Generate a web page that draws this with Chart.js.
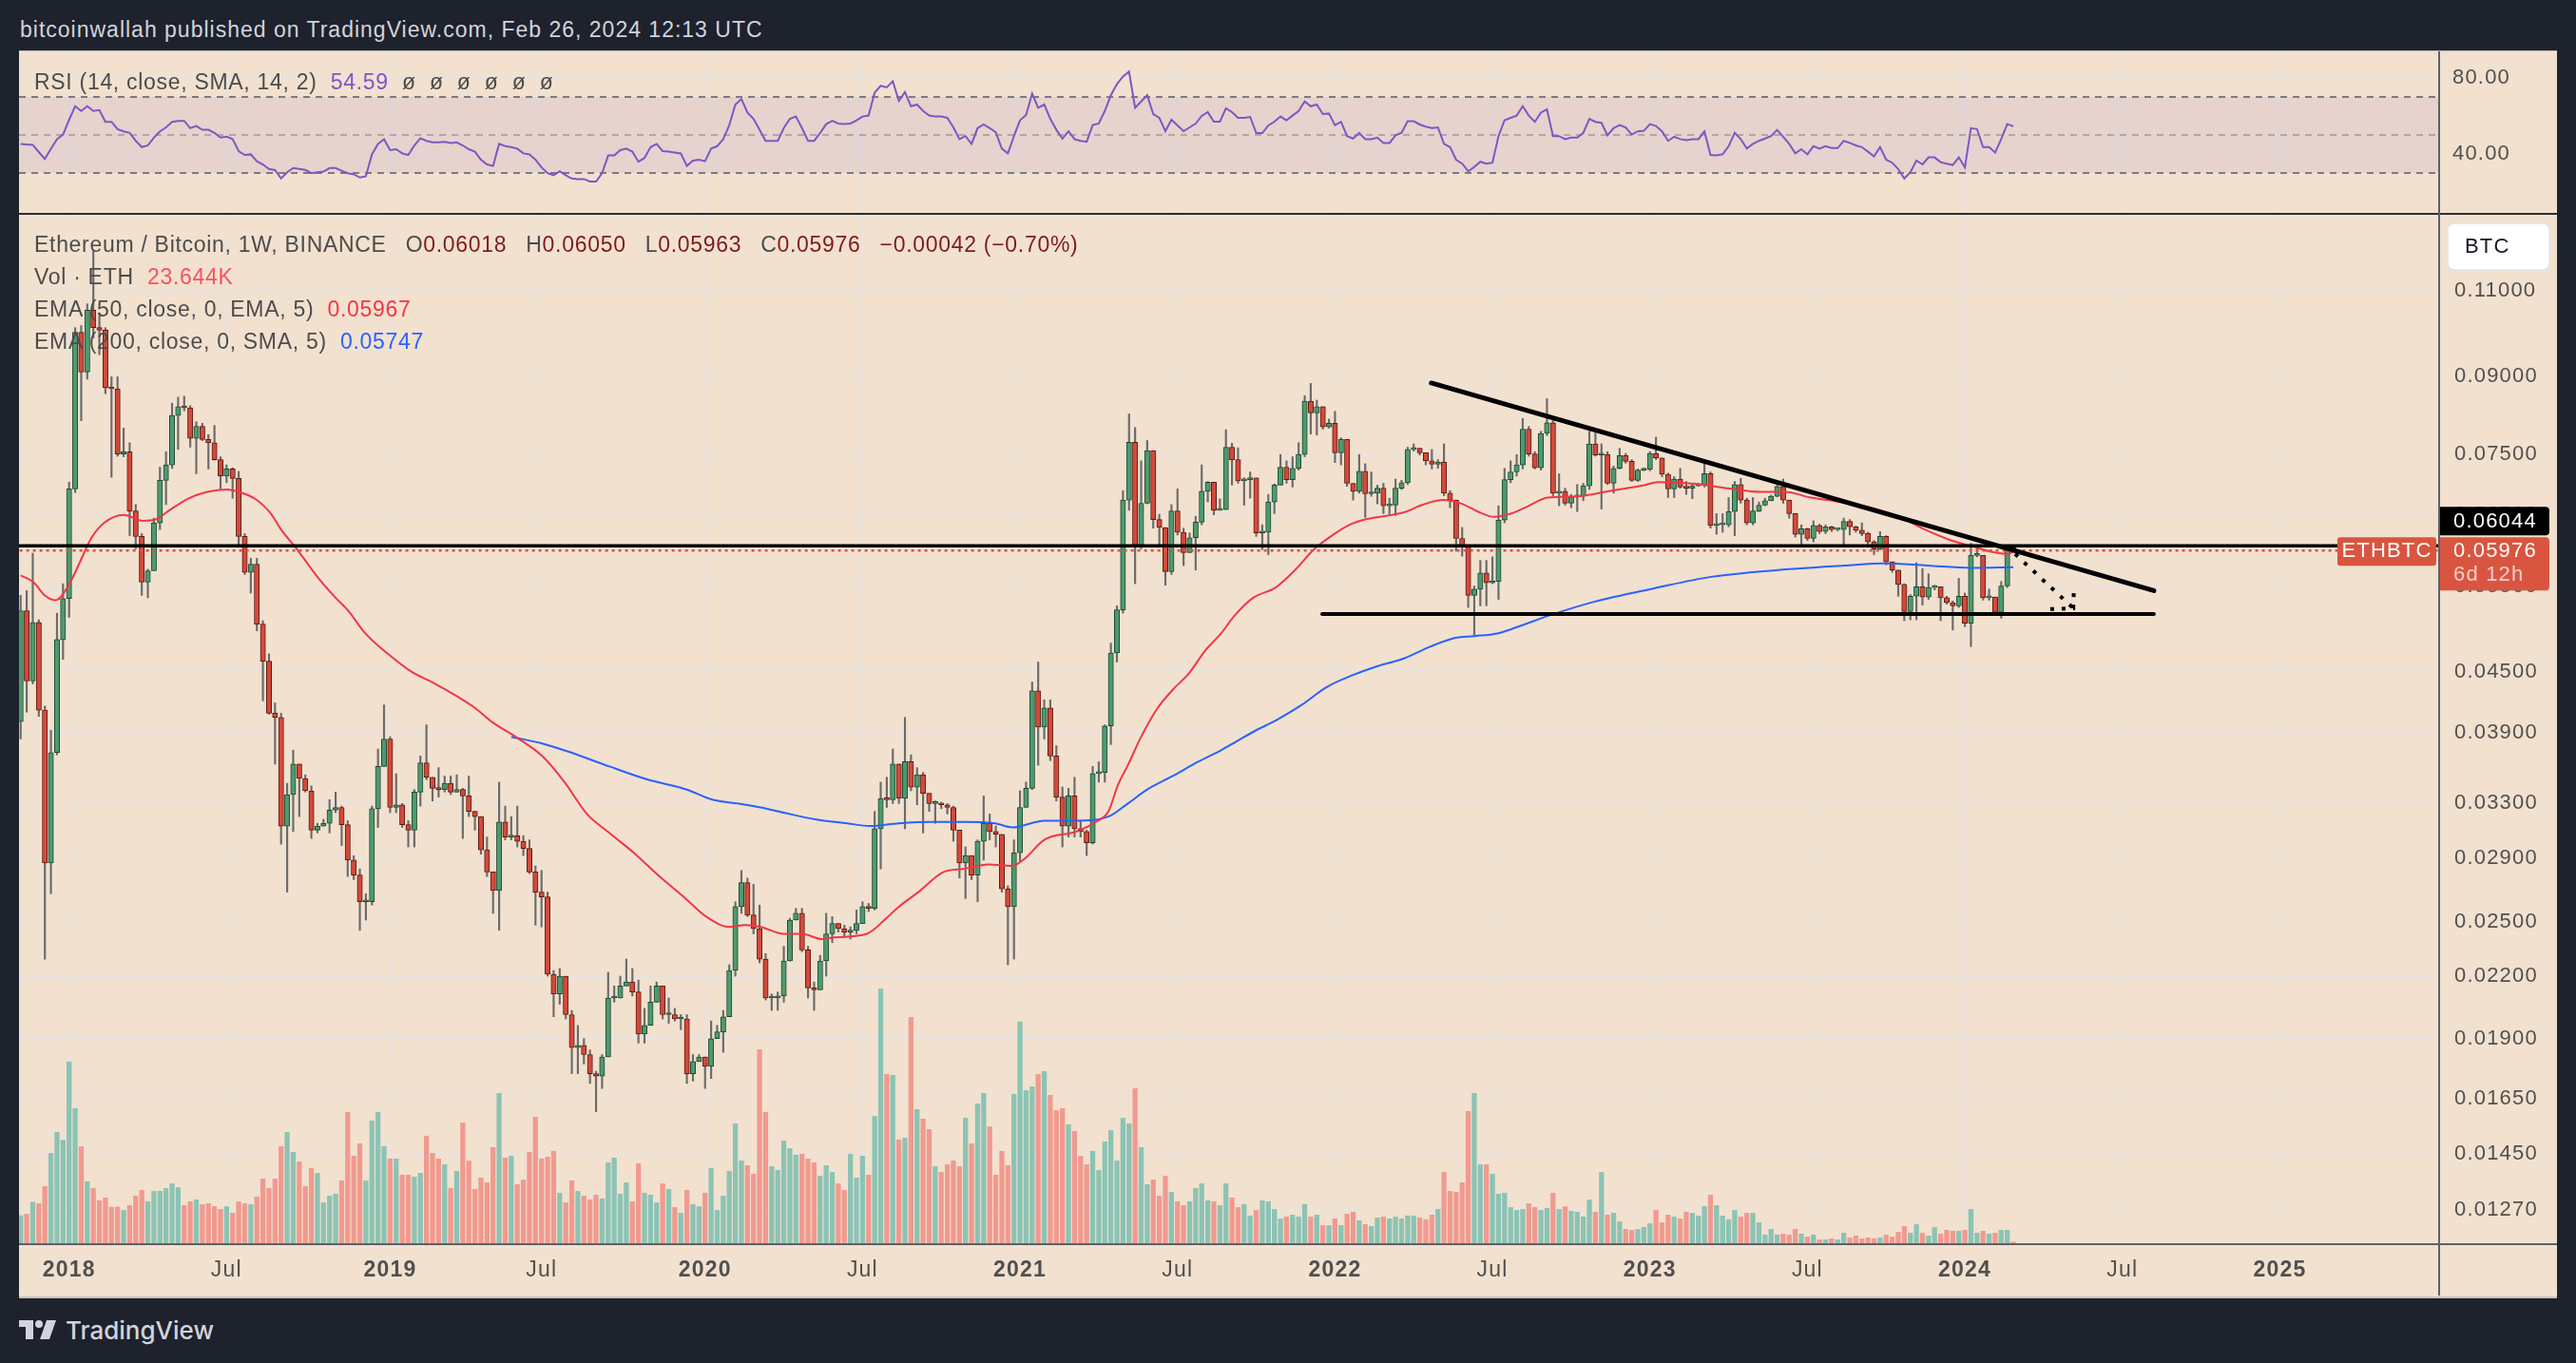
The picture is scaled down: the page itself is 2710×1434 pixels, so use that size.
<!DOCTYPE html>
<html>
<head>
<meta charset="utf-8">
<script src="https://cdn.jsdelivr.net/npm/chart.js@4.4.1/dist/chart.umd.min.js"></script>
<style>
  body { margin: 0; width: 2710px; height: 1434px; background: #1e222d; position: relative; overflow: hidden; font-family: "Liberation Sans", Arial, sans-serif; }
  #hdr { position: absolute; left: 21px; top: 20px; color: #d1d4dc; font-size: 23px; line-height: 23px; letter-spacing: 1px; white-space: pre; }
  #frame { position: absolute; left: 20px; top: 53px; width: 2670px; height: 1310px; background: #f2e1cf; border-top: 1px solid #b9b3ad; border-bottom: 2px solid #c9c1b9; }
  #rsiBox { position: absolute; left: 20px; top: 55px; width: 2670px; height: 169px; }
  #mainBox { position: absolute; left: 20px; top: 226px; width: 2670px; height: 1137px; }
  .sep { position: absolute; background: #2a2e39; }
  .lg { position: absolute; left: 36px; font-size: 23px; line-height: 23px; color: #4c4c4c; letter-spacing: 0.7px; white-space: pre; }
  .dn { color: #7d1c1c; }
  .f { margin-left: 20px; }
  #foot { position: absolute; left: 20px; top: 1386px; height: 26px; display: flex; align-items: center; color: #d1d4dc; font-family: Inter, "Liberation Sans", sans-serif; font-size: 26px; font-weight: 500; }
</style>
</head>
<body>
<div id="hdr">bitcoinwallah published on TradingView.com, Feb 26, 2024 12:13 UTC</div>
<div id="frame"></div>
<div id="rsiBox"><canvas id="rsiChart"></canvas></div>
<div class="sep" style="left:20px;top:224px;width:2670px;height:2px"></div>
<div id="mainBox"><canvas id="mainChart"></canvas></div>
<div class="sep" style="left:2565px;top:54px;width:2px;height:1309px;background:#5d606b"></div>
<div class="sep" style="left:20px;top:1308px;width:2670px;height:2px;background:#5d606b"></div>

<div class="lg" style="top:75px">RSI (14, close, SMA, 14, 2)  <span style="color:#7e57c2">54.59</span>  ø  ø  ø  ø  ø  ø</div>
<div class="lg" style="top:246px">Ethereum / Bitcoin, 1W, BINANCE<span class="f">O<span class="dn">0.06018</span></span><span class="f">H<span class="dn">0.06050</span></span><span class="f">L<span class="dn">0.05963</span></span><span class="f">C<span class="dn">0.05976</span></span><span class="f dn">−0.00042 (−0.70%)</span></div>
<div class="lg" style="top:280px">Vol · ETH  <span style="color:#f7525f">23.644K</span></div>
<div class="lg" style="top:314px">EMA (50, close, 0, EMA, 5)  <span style="color:#f23645">0.05967</span></div>
<div class="lg" style="top:348px">EMA (200, close, 0, SMA, 5)  <span style="color:#2962ff">0.05747</span></div>

<div id="foot">
  <svg width="40" height="20" viewBox="0 0 40 20" style="margin-right:9px">
    <path d="M0 0H15V20H7V7H0Z" fill="#d1d4dc"/>
    <circle cx="21" cy="4" r="4" fill="#d1d4dc"/>
    <path d="M29 0H39L32 20H22Z" fill="#d1d4dc"/>
  </svg>
  <span>TradingView</span>
</div>

<script>
// weekly ETH/BTC candles, week 0 = 6 Nov 2017, last week (329) = 26 Feb 2024
const firstOpen = 0.0400;
const close = [
  0.0519,0.0440,0.0505,0.0411,0.0287,0.0372,0.0485,0.0534,0.0691,0.0998,
  0.0909,0.1051,0.1009,0.1003,0.0876,0.0874,0.0750,0.0754,0.0656,0.0618,
  0.0555,0.0570,0.0638,0.0705,0.0731,0.0821,0.0838,0.0836,0.0778,0.0800,
  0.0776,0.0770,0.0740,0.0712,0.0724,0.0708,0.0618,0.0568,0.0579,0.0503,
  0.0461,0.0408,0.0404,0.0313,0.0337,0.0362,0.0350,0.0340,0.0310,0.0313,
  0.0315,0.0325,0.0327,0.0314,0.0289,0.0279,0.0262,0.0262,0.0326,0.0360,
  0.0384,0.0327,0.0329,0.0314,0.0310,0.0339,0.0363,0.0351,0.0342,0.0341,
  0.0346,0.0339,0.0341,0.0336,0.0324,0.0320,0.0296,0.0281,0.0269,0.0316,
  0.0305,0.0306,0.0302,0.0297,0.0281,0.0268,0.0265,0.0221,0.0211,0.0220,
  0.0201,0.0186,0.0187,0.0183,0.0175,0.0174,0.0182,0.0209,0.0209,0.0215,
  0.0217,0.0212,0.0192,0.0196,0.0207,0.0215,0.0201,0.0201,0.0199,0.0199,
  0.0175,0.0180,0.0182,0.0178,0.0190,0.0193,0.0200,0.0223,0.0259,0.0274,
  0.0254,0.0246,0.0229,0.0209,0.0209,0.0210,0.0228,0.0251,0.0255,0.0234,
  0.0214,0.0213,0.0228,0.0243,0.0249,0.0246,0.0244,0.0245,0.0249,0.0259,
  0.0258,0.0311,0.0334,0.0333,0.0362,0.0334,0.0364,0.0343,0.0353,0.0338,
  0.0330,0.0330,0.0329,0.0327,0.0310,0.0287,0.0292,0.0279,0.0302,0.0315,
  0.0309,0.0307,0.0270,0.0259,0.0294,0.0327,0.0342,0.0430,0.0395,0.0413,
  0.0369,0.0335,0.0313,0.0336,0.0311,0.0309,0.0301,0.0354,0.0355,0.0396,
  0.0470,0.0520,0.0673,0.0771,0.0604,0.0668,0.0756,0.0643,0.0631,0.0569,
  0.0656,0.0624,0.0595,0.0616,0.0639,0.0687,0.0702,0.0657,0.0658,0.0762,
  0.0740,0.0704,0.0706,0.0709,0.0623,0.0624,0.0670,0.0697,0.0727,0.0706,
  0.0725,0.0749,0.0849,0.0826,0.0838,0.0799,0.0806,0.0752,0.0776,0.0700,
  0.0687,0.0720,0.0683,0.0684,0.0692,0.0664,0.0665,0.0692,0.0701,0.0758,
  0.0760,0.0752,0.0738,0.0732,0.0736,0.0684,0.0673,0.0615,0.0604,0.0538,
  0.0546,0.0567,0.0554,0.0556,0.0642,0.0706,0.0719,0.0731,0.0795,0.0750,
  0.0726,0.0787,0.0807,0.0684,0.0687,0.0668,0.0678,0.0679,0.0696,0.0768,
  0.0748,0.0749,0.0700,0.0725,0.0747,0.0737,0.0705,0.0722,0.0723,0.0751,
  0.0743,0.0715,0.0691,0.0707,0.0694,0.0692,0.0696,0.0697,0.0716,0.0634,
  0.0635,0.0635,0.0655,0.0698,0.0673,0.0638,0.0656,0.0665,0.0672,0.0679,
  0.0695,0.0673,0.0652,0.0621,0.0629,0.0615,0.0634,0.0625,0.0632,0.0628,
  0.0628,0.0640,0.0632,0.0627,0.0622,0.0610,0.0600,0.0618,0.0582,0.0571,
  0.0552,0.0518,0.0537,0.0549,0.0536,0.0548,0.0549,0.0535,0.0529,0.0525,
  0.0537,0.0504,0.0591,0.0591,0.0535,0.0536,0.0517,0.0550,0.06018,0.05976
];
const high = [
  0.0538,0.0544,0.0594,0.0508,0.0415,0.0392,0.0516,0.0553,0.0702,0.1009,
  0.1014,0.1067,0.1210,0.1044,0.1009,0.0899,0.0899,0.0797,0.0770,0.0666,
  0.0622,0.0572,0.0645,0.0727,0.0754,0.0845,0.0857,0.0859,0.0840,0.0809,
  0.0806,0.0785,0.0802,0.0745,0.0731,0.0726,0.0720,0.0622,0.0587,0.0587,
  0.0507,0.0469,0.0418,0.0408,0.0346,0.0374,0.0362,0.0353,0.0344,0.0315,
  0.0318,0.0333,0.0339,0.0328,0.0317,0.0292,0.0283,0.0267,0.0328,0.0375,
  0.0416,0.0386,0.0354,0.0330,0.0317,0.0341,0.0369,0.0397,0.0351,0.0359,
  0.0352,0.0352,0.0353,0.0342,0.0352,0.0324,0.0320,0.0305,0.0281,0.0347,
  0.0328,0.0320,0.0328,0.0306,0.0303,0.0285,0.0282,0.0268,0.0223,0.0224,
  0.0220,0.0203,0.0196,0.0190,0.0185,0.0176,0.0183,0.0222,0.0215,0.0220,
  0.0229,0.0224,0.0218,0.0204,0.0215,0.0217,0.0215,0.0209,0.0204,0.0201,
  0.0201,0.0183,0.0183,0.0182,0.0198,0.0196,0.0203,0.0226,0.0262,0.0282,
  0.0277,0.0273,0.0260,0.0232,0.0211,0.0212,0.0236,0.0252,0.0258,0.0258,
  0.0236,0.0217,0.0231,0.0255,0.0253,0.0249,0.0248,0.0247,0.0257,0.0262,
  0.0261,0.0324,0.0347,0.0351,0.0375,0.0362,0.0404,0.0370,0.0359,0.0355,
  0.0337,0.0332,0.0331,0.0330,0.0328,0.0310,0.0298,0.0292,0.0303,0.0336,
  0.0322,0.0313,0.0307,0.0272,0.0303,0.0340,0.0347,0.0439,0.0460,0.0421,
  0.0421,0.0378,0.0343,0.0342,0.0351,0.0317,0.0310,0.0360,0.0364,0.0397,
  0.0481,0.0525,0.0688,0.0824,0.0798,0.0738,0.0774,0.0756,0.0651,0.0630,
  0.0666,0.0691,0.0630,0.0623,0.0648,0.0731,0.0703,0.0702,0.0675,0.0794,
  0.0769,0.0761,0.0709,0.0719,0.0709,0.0635,0.0682,0.0699,0.0749,0.0738,
  0.0745,0.0770,0.0860,0.0885,0.0851,0.0838,0.0814,0.0829,0.0779,0.0776,
  0.0700,0.0749,0.0733,0.0719,0.0697,0.0700,0.0676,0.0707,0.0705,0.0762,
  0.0768,0.0759,0.0752,0.0758,0.0740,0.0768,0.0688,0.0673,0.0631,0.0603,
  0.0550,0.0584,0.0584,0.0589,0.0664,0.0725,0.0738,0.0749,0.0815,0.0800,
  0.0754,0.0791,0.0854,0.0815,0.0716,0.0692,0.0682,0.0698,0.0700,0.0791,
  0.0788,0.0768,0.0754,0.0729,0.0760,0.0751,0.0740,0.0724,0.0725,0.0754,
  0.0780,0.0743,0.0717,0.0711,0.0725,0.0703,0.0700,0.0700,0.0734,0.0719,
  0.0652,0.0652,0.0677,0.0703,0.0708,0.0676,0.0677,0.0670,0.0676,0.0681,
  0.0700,0.0707,0.0673,0.0651,0.0635,0.0630,0.0641,0.0636,0.0635,0.0633,
  0.0629,0.0645,0.0643,0.0633,0.0638,0.0624,0.0612,0.0625,0.0619,0.0582,
  0.0571,0.0553,0.0539,0.0581,0.0573,0.0566,0.0551,0.0547,0.0537,0.0531,
  0.0560,0.0541,0.0608,0.0601,0.0589,0.0546,0.0535,0.0556,0.0604,0.06050
];
const low = [
  0.0384,0.0409,0.0437,0.0405,0.0229,0.0267,0.0370,0.0463,0.0511,0.0685,
  0.0811,0.0894,0.0985,0.0947,0.0864,0.0710,0.0746,0.0745,0.0619,0.0600,
  0.0538,0.0535,0.0570,0.0628,0.0666,0.0725,0.0758,0.0830,0.0762,0.0716,
  0.0774,0.0724,0.0739,0.0691,0.0701,0.0676,0.0603,0.0565,0.0541,0.0495,
  0.0420,0.0407,0.0362,0.0300,0.0268,0.0309,0.0320,0.0339,0.0304,0.0308,
  0.0313,0.0308,0.0323,0.0299,0.0278,0.0276,0.0245,0.0251,0.0260,0.0312,
  0.0360,0.0323,0.0323,0.0312,0.0298,0.0298,0.0328,0.0349,0.0332,0.0335,
  0.0339,0.0337,0.0339,0.0304,0.0320,0.0310,0.0293,0.0278,0.0255,0.0245,
  0.0303,0.0303,0.0298,0.0292,0.0280,0.0248,0.0247,0.0220,0.0200,0.0206,
  0.0199,0.0175,0.0175,0.0179,0.0171,0.0160,0.0169,0.0182,0.0207,0.0209,
  0.0215,0.0210,0.0188,0.0188,0.0196,0.0207,0.0199,0.0197,0.0198,0.0194,
  0.0171,0.0172,0.0180,0.0169,0.0173,0.0190,0.0184,0.0200,0.0220,0.0255,
  0.0253,0.0243,0.0227,0.0208,0.0203,0.0203,0.0207,0.0228,0.0251,0.0233,
  0.0209,0.0203,0.0213,0.0220,0.0238,0.0244,0.0241,0.0240,0.0243,0.0249,
  0.0256,0.0257,0.0283,0.0327,0.0330,0.0330,0.0311,0.0340,0.0329,0.0308,
  0.0324,0.0315,0.0326,0.0322,0.0302,0.0277,0.0264,0.0276,0.0262,0.0289,
  0.0303,0.0298,0.0268,0.0226,0.0229,0.0288,0.0332,0.0341,0.0361,0.0384,
  0.0365,0.0332,0.0298,0.0305,0.0305,0.0305,0.0292,0.0300,0.0347,0.0347,
  0.0379,0.0460,0.0516,0.0657,0.0553,0.0600,0.0667,0.0630,0.0603,0.0551,
  0.0565,0.0620,0.0577,0.0595,0.0571,0.0635,0.0670,0.0650,0.0657,0.0658,
  0.0697,0.0700,0.0665,0.0676,0.0618,0.0599,0.0592,0.0652,0.0697,0.0700,
  0.0694,0.0722,0.0745,0.0786,0.0784,0.0795,0.0797,0.0735,0.0731,0.0695,
  0.0673,0.0684,0.0646,0.0679,0.0667,0.0652,0.0649,0.0649,0.0690,0.0698,
  0.0755,0.0748,0.0731,0.0724,0.0725,0.0680,0.0661,0.0597,0.0590,0.0523,
  0.0490,0.0525,0.0525,0.0553,0.0533,0.0638,0.0701,0.0712,0.0724,0.0746,
  0.0724,0.0722,0.0783,0.0679,0.0664,0.0665,0.0661,0.0655,0.0672,0.0690,
  0.0746,0.0659,0.0698,0.0684,0.0724,0.0734,0.0703,0.0703,0.0721,0.0721,
  0.0740,0.0711,0.0677,0.0677,0.0692,0.0682,0.0675,0.0695,0.0694,0.0630,
  0.0621,0.0624,0.0632,0.0619,0.0668,0.0635,0.0635,0.0655,0.0664,0.0672,
  0.0678,0.0668,0.0645,0.0617,0.0603,0.0612,0.0610,0.0622,0.0622,0.0625,
  0.0626,0.0605,0.0620,0.0624,0.0619,0.0607,0.0592,0.0599,0.0578,0.0568,
  0.0537,0.0507,0.0508,0.0508,0.0526,0.0533,0.0545,0.0507,0.0527,0.0496,
  0.0523,0.0500,0.0477,0.0589,0.0532,0.0532,0.0514,0.0510,0.0548,0.05963
];
// volume in thousands of ETH
const volumeK = [
  315,332,465,448,637,1004,1235,1148,2012,1498,
  1078,690,616,480,511,410,410,374,427,532,
  595,469,584,584,616,668,626,427,469,490,
  438,448,416,385,416,343,469,448,438,522,
  721,616,721,1078,1235,1015,910,637,836,784,
  458,532,553,700,1456,973,1110,700,1362,1456,
  1078,942,942,763,763,742,784,1194,1004,942,
  878,616,805,1340,920,606,732,679,1068,1666,
  952,973,658,710,1015,1404,942,962,1026,564,
  458,700,584,532,490,542,500,900,952,553,
  679,469,889,564,542,458,668,606,406,343,
  595,438,416,564,836,374,532,805,1330,920,
  868,774,2149,1456,858,816,1141,1057,984,994,
  942,900,752,868,794,668,595,994,732,973,
  763,1414,2821,1876,1866,1152,1172,2506,1488,1382,
  1267,858,794,878,920,858,1393,1110,1550,1666,
  1298,763,1026,868,1656,2457,1698,1740,1876,1908,
  1645,1477,1498,1320,1246,973,878,1026,816,1130,
  1256,920,1393,1330,1718,1068,658,710,532,752,
  574,469,427,469,616,668,480,469,427,668,
  511,406,438,312,374,480,469,385,280,301,
  322,301,438,301,322,206,206,280,206,332,
  354,259,217,196,290,301,280,301,280,312,
  312,290,270,322,385,794,584,574,679,1466,
  1666,878,878,774,553,564,406,374,385,448,
  406,374,396,564,385,416,364,354,301,490,
  354,794,322,343,248,164,154,164,186,228,
  374,238,322,301,280,354,343,312,416,542,
  427,312,270,374,301,343,343,238,102,164,
  102,112,102,164,112,80,102,49,49,60,
  49,122,70,91,60,70,60,70,102,80,
  133,196,122,217,122,91,186,112,154,144,
  144,154,385,122,144,112,122,154,154,23.644
];
const rsi = [
  45.3,45.0,44.8,41.0,37.4,42.8,47.8,50.2,58.0,65.1,
  62.6,65.1,62.6,63.1,56.9,56.9,53.0,51.9,51.1,46.9,
  43.6,44.5,48.6,51.9,54.0,56.9,57.4,57.4,53.6,54.7,
  52.7,52.7,51.1,48.6,49.1,47.8,41.5,39.5,39.8,36.2,
  34.5,32.1,31.5,27.1,30.4,32.6,32.1,31.6,29.9,30.4,
  30.7,32.6,32.6,31.2,29.9,29.3,27.6,28.3,39.8,45.3,
  47.8,42.0,42.5,40.3,39.5,44.5,48.3,46.9,46.1,46.1,
  46.4,45.8,46.1,44.5,42.5,41.2,37.0,34.5,33.7,45.3,
  44.1,43.6,42.8,40.3,39.8,37.0,32.9,29.9,28.8,30.9,
  28.8,27.1,26.8,26.8,25.5,25.5,29.9,39.2,39.2,42.0,
  42.8,41.2,35.9,37.9,43.6,45.3,41.5,41.2,40.8,40.3,
  33.7,36.5,37.0,36.2,42.8,44.1,47.8,55.2,66.0,68.9,
  61.8,58.5,52.7,46.9,46.9,46.9,53.6,58.5,59.7,53.6,
  46.9,46.9,51.1,55.7,57.4,56.0,55.7,56.0,57.7,59.7,
  60.2,72.2,75.9,75.0,78.3,67.9,72.6,65.1,66.0,62.6,
  60.2,59.7,59.7,59.0,54.0,47.8,49.4,45.3,53.6,55.5,
  53.6,51.4,42.8,40.3,49.4,57.7,60.5,71.7,64.3,66.0,
  58.5,52.7,48.1,51.9,47.8,46.9,46.4,55.2,56.0,62.6,
  70.9,76.7,80.8,83.3,64.3,67.6,70.9,61.0,59.0,52.0,
  58.0,55.0,52.0,54.0,56.0,60.0,62.0,57.0,57.0,64.0,
  62.0,59.0,59.0,59.5,51.0,51.0,55.0,57.0,59.7,57.7,
  60.2,62.6,67.6,65.1,66.0,61.0,61.3,55.2,56.9,49.4,
  48.1,51.1,47.8,47.8,48.6,45.8,45.8,49.8,51.1,57.2,
  57.2,55.5,54.4,53.6,54.0,45.3,43.6,37.0,34.9,30.9,
  33.2,35.9,34.9,35.4,49.4,57.7,59.0,60.2,65.1,60.2,
  56.9,61.8,63.5,49.4,49.4,47.8,48.6,48.6,51.1,58.5,
  56.9,56.4,49.8,53.6,55.2,54.0,50.2,51.9,52.2,55.7,
  54.7,51.9,46.9,49.1,47.8,47.3,47.8,47.8,51.9,39.5,
  39.2,39.8,44.1,51.1,47.8,42.8,45.3,46.9,48.1,49.4,
  52.7,49.1,45.3,40.3,42.5,39.8,44.1,42.8,44.1,43.1,
  43.1,46.9,45.8,44.5,43.6,41.2,38.7,43.6,37.0,35.4,
  32.1,27.1,30.4,36.5,34.5,38.2,38.2,35.7,34.9,34.2,
  38.2,32.9,53.6,53.1,43.6,43.6,40.8,47.8,55.7,54.59
];
// EMA curves (week position, value)
const ema50Week = [0,2.1,4,5.8,8,9.8,11.7,13.8,17,20.2,22.3,24.4,27.6,30.8,34,36.1,38.7,41.4,43,45.6,
  48.8,52,54.1,56.8,61,64.7,67.9,72.2,74.8,78,82,86.1,89.8,93.5,97.2,101.5,105.2,109.5,113.2,117,
  119.6,122.2,126,129,132.3,134.4,139.7,142.9,145,148.2,152.4,155.6,159.8,163.7,165.8,169,174.3,177.5,179.6,181.2,
  182.8,185,187.6,190.2,192.9,195.5,198.2,200.3,203.5,207.2,210.4,213.6,216.8,219.4,222,225.2,228.4,231.6,234.8,238,
  240.6,243.3,246.1,248.8,252.1,257,262.6,268.1,270.3,276.9,281.8,287.3,291.2,295.6,301.1,305.5,309.9,314.4,318.8,322.1,
  325.4,328.2,329];
const ema50 = [0.0564,0.0555,0.0538,0.0532,0.0552,0.0582,0.0616,0.0638,0.0650,0.0641,0.0643,0.0656,0.0675,0.0686,0.0690,0.0686,0.0675,0.0651,0.0628,0.0600,
  0.0564,0.0535,0.0519,0.0493,0.0467,0.0449,0.0439,0.0424,0.0414,0.0399,0.0385,0.0369,0.0347,0.0322,0.0308,0.0293,0.0279,0.0265,0.0253,0.0247,
  0.0248,0.0247,0.0243,0.0243,0.0240,0.0241,0.0243,0.0252,0.0259,0.0268,0.0281,0.0283,0.0286,0.0285,0.0290,0.0303,0.0309,0.0316,0.0324,0.0345,
  0.0361,0.0386,0.0412,0.0431,0.0448,0.0472,0.0492,0.0512,0.0535,0.0548,0.0571,0.0600,0.0621,0.0635,0.0643,0.0648,0.0654,0.0666,0.0673,0.0667,
  0.0655,0.0647,0.0652,0.0663,0.0677,0.0679,0.0688,0.0697,0.0702,0.0699,0.0692,0.0686,0.0686,0.0677,0.0669,0.0661,0.0648,0.0628,0.0612,0.0604,
  0.0596,0.0593,0.05967];
const ema200Week = [81,86.1,90.3,97.2,103.6,110,114.2,118.5,122.2,126,131.2,136.5,140.2,145,150.3,155.6,160.9,163.7,169,174.3,
  179.6,182.8,186,190.2,194.4,198.2,200.8,204,207.2,211.5,215.7,219.9,224.2,228.4,232.7,236.9,240.1,243.8,246.1,252.7,
  259.8,269.7,279.1,290.1,301.1,307.7,314.8,322.1,329];
const ema200 = [0.0386,0.0380,0.0373,0.0360,0.0349,0.0341,0.0333,0.0330,0.0327,0.0323,0.0318,0.0315,0.0313,0.0315,0.0316,0.0316,0.0315,0.0312,0.0317,0.0317,
  0.0320,0.0330,0.0341,0.0352,0.0364,0.0374,0.0382,0.0392,0.0401,0.0416,0.0434,0.0446,0.0456,0.0464,0.0477,0.0487,0.0489,0.0492,0.0497,0.0514,
  0.0530,0.0547,0.0562,0.0571,0.0577,0.0580,0.0577,0.0574,0.05747];

// axes
const timeTickWeeks = [8,34,61,86,113,139,165,191,217,243,269,295,321,347,373];
const timeTickLabels = ['2018','Jul','2019','Jul','2020','Jul','2021','Jul','2022','Jul','2023','Jul','2024','Jul','2025'];
const priceTicks = [0.0127,0.0145,0.0165,0.019,0.022,0.025,0.029,0.033,0.039,0.045,0.055,0.065,0.075,0.09,0.11];
const rsiTicks = [40, 80];
const rsiLevels = [30, 50, 70];

// drawings on the chart
const lastPrice = 0.05976;
const levelPrice = 0.06044;
const trendWeeks = [232.9, 352.2], trendPrices = [0.0886, 0.0544];
const supportWeeks = [214.9, 352.2], supportPrices = [0.0515, 0.0515];
const arrowWeeks = [329.3, 338.9], arrowPrices = [0.0593, 0.0522];
const arrowHeadWeeks = [335.1, 338.9, 339.0], arrowHeadPrices = [0.0521, 0.0522, 0.0548];

const X_MIN = -0.27, X_MAX = 399.3;
const GRID = '#e8e3de';
const AXIS_TEXT = '#505050';
const FONT = '"Liberation Sans", Arial, sans-serif';

const open = close.map((c, k) => (k === 0 ? firstOpen : close[k - 1]));
const isUp = close.map((c, k) => c >= open[k]);

const pts = (xs, ys) => xs.map((x, k) => ({ x: x, y: ys[k] }));

function fixWidth(w) {
  return function (scale) {
    scale.width = w;
    scale.paddingTop = 0; scale.paddingBottom = 0;
  };
}
function fixHeight(h) {
  return function (scale) {
    scale.height = h;
    scale.paddingLeft = 0; scale.paddingRight = 0;
  };
}
const timeTicksHook = (scale) => { scale.ticks = timeTickWeeks.map(v => ({ value: v })); };

const spacing = {
  id: 'spacing',
  beforeDraw(chart) { chart.ctx.letterSpacing = '1.2px'; }
};

const rsiBands = {
  id: 'rsiBands',
  beforeDatasetsDraw(chart) {
    const { ctx, chartArea: a, scales: { y } } = chart;
    const y70 = y.getPixelForValue(70), y30 = y.getPixelForValue(30);
    ctx.save();
    ctx.fillStyle = 'rgba(126,87,194,0.1)';
    ctx.fillRect(a.left, y70, a.right - a.left, y30 - y70);
    ctx.lineWidth = 2;
    ctx.setLineDash([7, 6]);
    rsiLevels.forEach(v => {
      const py = Math.round(y.getPixelForValue(v));
      ctx.strokeStyle = v === 50 ? 'rgba(120,123,134,0.5)' : '#787b86';
      ctx.beginPath(); ctx.moveTo(a.left, py); ctx.lineTo(a.right, py); ctx.stroke();
    });
    ctx.restore();
  }
};

function box(ctx, x, y, w, h, r, fill) {
  ctx.beginPath();
  ctx.roundRect(x, y, w, h, r);
  ctx.fillStyle = fill;
  ctx.fill();
}

const priceLabels = {
  id: 'priceLabels',
  afterDraw(chart) {
    const { ctx, chartArea: a, scales: { y } } = chart;
    const ax = a.right;
    const py = y.getPixelForValue(lastPrice);
    ctx.save();
    ctx.letterSpacing = '1.2px';
    ctx.font = '22px ' + FONT;
    ctx.textBaseline = 'middle';
    // currency button
    box(ctx, ax + 9, 9, 107, 49, 7, '#ffffff');
    ctx.strokeStyle = '#e0e3eb'; ctx.lineWidth = 1.5; ctx.stroke();
    ctx.fillStyle = '#131722'; ctx.textAlign = 'left';
    ctx.fillText('BTC', ax + 27, 34);
    // horizontal level label
    box(ctx, ax, py - 46, 116, 30, [0, 4, 4, 0], '#000000');
    ctx.fillStyle = '#ffffff';
    ctx.fillText(levelPrice.toFixed(5), ax + 15, py - 30);
    // last price label with countdown
    box(ctx, ax, py - 14, 116, 56, [0, 4, 4, 0], '#d95540');
    ctx.fillStyle = '#ffffff';
    ctx.fillText(lastPrice.toFixed(5), ax + 15, py + 1);
    ctx.fillStyle = 'rgba(255,255,255,0.72)';
    ctx.fillText('6d 12h', ax + 15, py + 26);
    // symbol label
    box(ctx, ax - 107, py - 14, 104, 30, 3, '#d95540');
    ctx.fillStyle = '#ffffff'; ctx.textAlign = 'center';
    ctx.fillText('ETHBTC', ax - 55, py + 1);
    ctx.restore();
  }
};

// ---------- RSI pane ----------
new Chart(document.getElementById('rsiChart'), {
  type: 'line',
  data: {
    datasets: [{
      data: pts(close.map((c, k) => k), rsi),
      borderColor: '#7e57c2', borderWidth: 2, pointRadius: 0, tension: 0
    }]
  },
  options: {
    responsive: true, maintainAspectRatio: false, animation: false, events: [],
    layout: { padding: 0 },
    plugins: { legend: { display: false }, tooltip: { enabled: false } },
    scales: {
      x: {
        type: 'linear', min: X_MIN, max: X_MAX,
        afterBuildTicks: timeTicksHook, afterFit: fixHeight(0),
        ticks: { display: false },
        grid: { color: GRID, lineWidth: 1.5, drawTicks: false },
        border: { display: false }
      },
      y: {
        position: 'right', min: 9, max: 93.5,
        afterBuildTicks: (s) => { s.ticks = rsiTicks.map(v => ({ value: v })); },
        afterFit: fixWidth(124),
        ticks: { padding: 14, color: AXIS_TEXT, font: { family: FONT, size: 22 }, callback: v => v.toFixed(2) },
        grid: { color: GRID, lineWidth: 2, drawTicks: false },
        border: { display: false }
      }
    }
  },
  plugins: [spacing, rsiBands]
});

// ---------- price pane ----------
const lineStyle = { type: 'line', yAxisID: 'y', pointRadius: 0, fill: false };

new Chart(document.getElementById('mainChart'), {
  type: 'bar',
  data: {
    datasets: [
      {
        label: 'Volume', yAxisID: 'vol', order: 10, grouped: false, barThickness: 4.6,
        data: pts(close.map((c, k) => k), volumeK),
        backgroundColor: isUp.map(u => (u ? 'rgba(38,166,154,0.5)' : 'rgba(239,83,80,0.5)'))
      },
      {
        label: 'Wick', yAxisID: 'y', order: 6, grouped: false, barThickness: 1.5,
        data: close.map((c, k) => ({ x: k, y: [Math.min(low[k], open[k], c), Math.max(high[k], open[k], c)] })),
        backgroundColor: '#6b6b6b'
      },
      {
        label: 'Body', yAxisID: 'y', order: 5, grouped: false, barThickness: 5.4, minBarLength: 2,
        data: close.map((c, k) => ({ x: k, y: [open[k], c] })),
        backgroundColor: isUp.map(u => (u ? '#4e9a70' : '#d4493b')),
        borderColor: isUp.map(u => (u ? '#1d4a31' : '#5d1a12')),
        borderWidth: 1, borderSkipped: false
      },
      Object.assign({ label: 'EMA 200', order: 4, data: pts(ema200Week, ema200), borderColor: '#2962ff', borderWidth: 2, cubicInterpolationMode: 'monotone' }, lineStyle),
      Object.assign({ label: 'EMA 50', order: 3, data: pts(ema50Week, ema50), borderColor: '#f23645', borderWidth: 2, cubicInterpolationMode: 'monotone' }, lineStyle),
      Object.assign({ label: 'Last', order: 2, data: pts([X_MIN - 1, X_MAX + 1], [lastPrice, lastPrice]), borderColor: '#d95540', borderWidth: 2.5, borderDash: [3, 4] }, lineStyle),
      Object.assign({ label: 'Level', order: 1, data: pts([X_MIN - 1, X_MAX + 1], [levelPrice, levelPrice]), borderColor: '#000000', borderWidth: 3.5 }, lineStyle),
      Object.assign({ label: 'Trend', order: 1, data: pts(trendWeeks, trendPrices), borderColor: '#000000', borderWidth: 5, borderCapStyle: 'round' }, lineStyle),
      Object.assign({ label: 'Support', order: 1, data: pts(supportWeeks, supportPrices), borderColor: '#000000', borderWidth: 4, borderCapStyle: 'round' }, lineStyle),
      Object.assign({ label: 'Path', order: 1, data: pts(arrowWeeks, arrowPrices), borderColor: '#000000', borderWidth: 4, borderDash: [4, 9] }, lineStyle),
      Object.assign({ label: 'Head', order: 1, data: pts(arrowHeadWeeks, arrowHeadPrices), borderColor: '#000000', borderWidth: 4, borderDash: [4, 8] }, lineStyle)
    ]
  },
  options: {
    responsive: true, maintainAspectRatio: false, animation: false, events: [],
    layout: { padding: 0 },
    plugins: { legend: { display: false }, tooltip: { enabled: false } },
    scales: {
      x: {
        type: 'linear', min: X_MIN, max: X_MAX, offset: false,
        afterBuildTicks: timeTicksHook, afterFit: fixHeight(54),
        ticks: {
          autoSkip: false, maxRotation: 0, padding: 14, color: AXIS_TEXT,
          callback: v => timeTickLabels[timeTickWeeks.indexOf(v)],
          font: ctx => ({ family: FONT, size: 23, weight: /^\d{4}$/.test(timeTickLabels[ctx.index]) ? 'bold' : 'normal' })
        },
        grid: { color: GRID, lineWidth: 1.5, drawTicks: false, offset: false },
        border: { display: false }
      },
      y: {
        type: 'logarithmic', position: 'right', min: 0.011724, max: 0.13151,
        afterBuildTicks: (s) => { s.ticks = priceTicks.map(v => ({ value: v })); },
        afterFit: fixWidth(124),
        ticks: { autoSkip: false, padding: 16, color: AXIS_TEXT, font: { family: FONT, size: 22 }, callback: v => Number(v).toFixed(5) },
        grid: { color: GRID, lineWidth: 2, drawTicks: false },
        border: { display: false }
      },
      vol: { type: 'linear', display: false, min: 0, max: 11371 }
    }
  },
  plugins: [spacing, priceLabels]
});
</script>
</body>
</html>
